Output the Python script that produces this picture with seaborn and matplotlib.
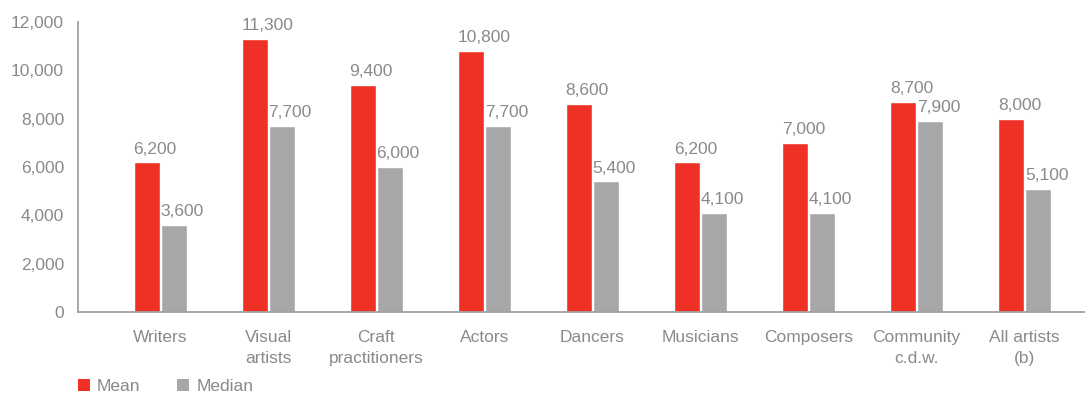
import matplotlib
matplotlib.use("Agg")
import matplotlib.pyplot as plt
from matplotlib.patches import Patch
import seaborn as sns
import pandas as pd

# Artist income by occupation (dollars)
categories = ["Writers", "Visual\nartists", "Craft\npractitioners", "Actors", "Dancers",
              "Musicians", "Composers", "Community\nc.d.w.", "All artists\n(b)"]
mean_values = [6200, 11300, 9400, 10800, 8600, 6200, 7000, 8700, 8000]
median_values = [3600, 7700, 6000, 7700, 5400, 4100, 4100, 7900, 5100]
series_names = ["Mean", "Median"]
y_ticks = [0, 2000, 4000, 6000, 8000, 10000, 12000]

RED = "#EE3124"
GREY = "#A7A7A9"
TEXT = "#8A8A8C"
AXIS = "#A0A0A2"
FS = 12.5

df = pd.DataFrame({
    "category": categories * 2,
    "series": [series_names[0]] * len(categories) + [series_names[1]] * len(categories),
    "value": mean_values + median_values,
})

sns.set_theme(style="white")
plt.rcParams["font.family"] = ["Liberation Sans", "DejaVu Sans"]

fig = plt.figure(figsize=(10.85, 3.96), dpi=100)
ax = fig.add_axes([0.0719, 0.212, 0.9281, 0.733])

sns.barplot(data=df, x="category", y="value", hue="series", order=categories,
            hue_order=series_names, palette=[RED, GREY], width=0.5,
            gap=0.03, saturation=1, legend=False, ax=ax)

ax.set_xlim(-0.76, 8.56)
ax.set_ylim(0, 12000)
ax.set_yticks(y_ticks)
ax.set_yticklabels([f"{v:,}" for v in y_ticks])
ax.set_xlabel("")
ax.set_ylabel("")

for side in ["top", "right"]:
    ax.spines[side].set_visible(False)
for side in ["left", "bottom"]:
    ax.spines[side].set_color(AXIS)
    ax.spines[side].set_linewidth(1.3)

ax.tick_params(axis="y", direction="in", length=7, width=1.1, color=AXIS,
               labelsize=FS, labelcolor=TEXT, pad=10)
ax.tick_params(axis="x", length=0, labelsize=FS, labelcolor=TEXT, pad=13)
for lbl in ax.get_xticklabels():
    lbl.set_linespacing(1.45)

# value labels sit above each bar, aligned to its left edge
for container in ax.containers:
    for bar, v in zip(container, container.datavalues):
        ax.annotate(f"{v:,.0f}", (bar.get_x(), bar.get_height()),
                    xytext=(0, 4), textcoords="offset points",
                    ha="left", va="bottom", fontsize=FS, color=TEXT)

handles = [Patch(facecolor=RED, edgecolor="none"), Patch(facecolor=GREY, edgecolor="none")]
fig.legend(handles, series_names, loc="lower left", bbox_to_anchor=(0.0575, -0.035),
           ncol=2, frameon=False, fontsize=FS, labelcolor=TEXT,
           handlelength=0.7, handleheight=0.7, handletextpad=0.4, columnspacing=2.1)

fig.savefig("out.png", dpi=100)
